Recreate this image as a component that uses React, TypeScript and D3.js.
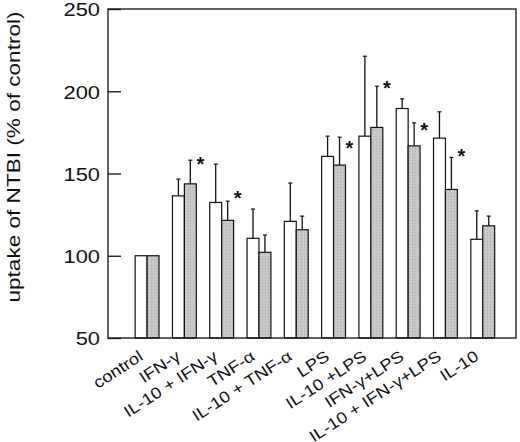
import React, { useRef, useEffect } from 'react';
import * as d3 from 'd3';

// groups along the x axis
const categories = [
    'control',
    'IFN-γ',
    'IL-10 + IFN-γ',
    'TNF-α',
    'IL-10 + TNF-α',
    'LPS',
    'IL-10 +LPS',
    'IFN-γ+LPS',
    'IL-10 + IFN-γ+LPS',
    'IL-10',
];

// open bars
const whiteVals = [100, 136.4, 132.4, 110.6, 120.9, 160.4, 172.7, 189.5, 171.5, 110.0];
const whiteErrTop = [100, 146.6, 155.7, 128.4, 144.2, 172.7, 221.3, 195.4, 187.5, 127.3];
// shaded bars
const greyVals = [100, 143.7, 121.5, 102.1, 115.8, 155.1, 178.0, 166.8, 140.3, 118.2];
const greyErrTop = [100, 158.1, 133.2, 112.6, 124.1, 172.1, 203.1, 180.8, 159.8, 124.1];
// asterisks (value at which the star sits, null = none)
const starVals = [null, 158.7, 137.9, null, null, 168.6, 205.1, 179.2, 163.6, null];

const yTicks = [50, 100, 150, 200, 250];
const yTitle = 'uptake of NTBI (% of control)';

const W = 520;
const H = 442;

export default function App() {
    const svgRef = useRef<SVGSVGElement | null>(null);

    useEffect(() => {
        const svg = d3.select(svgRef.current);
        svg.selectAll('*').remove();

        const left = 108,
            right = 516,
            top = 9,
            bottom = 338;

        const y = d3.scaleLinear().domain([50, 250]).range([bottom, top]);
        const x = d3
            .scaleBand<string>()
            .domain(categories)
            .range([left, right])
            .paddingInner(0.36)
            .paddingOuter(0.65)
            .align(0.56);
        const sub = d3.scaleBand<string>().domain(['w', 'g']).range([0, x.bandwidth()]);
        const bw = sub.bandwidth();

        const font = "'Liberation Sans', Arial, Helvetica, sans-serif";

        // grey stipple
        const defs = svg.append('defs');
        const pat = defs
            .append('pattern')
            .attr('id', 'stip')
            .attr('width', 3)
            .attr('height', 3)
            .attr('patternUnits', 'userSpaceOnUse');
        pat.append('rect').attr('width', 3).attr('height', 3).attr('fill', '#c8c8c8');
        pat.append('rect').attr('x', 1).attr('y', 1).attr('width', 1).attr('height', 1).attr('fill', '#adadad');

        const rows = categories.map((c, i) => ({
            c,
            w: whiteVals[i],
            we: whiteErrTop[i],
            g: greyVals[i],
            ge: greyErrTop[i],
            s: starVals[i],
        }));

        const g = svg.append('g');

        // error bars (drawn first, bars sit on top)
        const errs: { cx: number; v: number; e: number }[] = [];
        rows.forEach((r) => {
            const x0 = x(r.c) as number;
            errs.push({ cx: x0 + (sub('w') as number) + bw / 2, v: r.w, e: r.we });
            errs.push({ cx: x0 + (sub('g') as number) + bw / 2, v: r.g, e: r.ge });
        });
        const eg = g.selectAll('.err').data(errs.filter((d) => d.e > d.v)).join('g').attr('class', 'err');
        eg.append('line')
            .attr('x1', (d) => d.cx)
            .attr('x2', (d) => d.cx)
            .attr('y1', (d) => y(d.v))
            .attr('y2', (d) => y(d.e))
            .attr('stroke', '#111')
            .attr('stroke-width', 1.3);
        eg.append('line')
            .attr('x1', (d) => d.cx - 2)
            .attr('x2', (d) => d.cx + 2)
            .attr('y1', (d) => y(d.e))
            .attr('y2', (d) => y(d.e))
            .attr('stroke', '#111')
            .attr('stroke-width', 1.2);

        // bars
        g.selectAll('.wbar')
            .data(rows)
            .join('rect')
            .attr('class', 'wbar')
            .attr('x', (d) => (x(d.c) as number) + (sub('w') as number))
            .attr('y', (d) => y(d.w))
            .attr('width', bw)
            .attr('height', (d) => y(50) - y(d.w))
            .attr('fill', '#fff')
            .attr('stroke', '#111')
            .attr('stroke-width', 1.2);
        g.selectAll('.gbar')
            .data(rows)
            .join('rect')
            .attr('class', 'gbar')
            .attr('x', (d) => (x(d.c) as number) + (sub('g') as number))
            .attr('y', (d) => y(d.g))
            .attr('width', bw)
            .attr('height', (d) => y(50) - y(d.g))
            .attr('fill', 'url(#stip)')
            .attr('stroke', '#111')
            .attr('stroke-width', 1.2);

        // stars
        g.selectAll('.star')
            .data(rows.filter((r) => r.s !== null))
            .join('text')
            .attr('class', 'star')
            .attr('x', (d) => (x(d.c) as number) + x.bandwidth() + 4)
            .attr('y', (d) => y(d.s as number) + 12)
            .attr('text-anchor', 'middle')
            .attr('font-family', font)
            .attr('font-weight', 'bold')
            .attr('font-size', 20)
            .attr('fill', '#111')
            .text('*');

        // frame
        svg.append('rect')
            .attr('x', left)
            .attr('y', top)
            .attr('width', right - left)
            .attr('height', bottom - top)
            .attr('fill', 'none')
            .attr('stroke', '#111')
            .attr('stroke-width', 1.3);

        // y ticks, pointing inward
        const yAxis = d3.axisLeft(y).tickValues(yTicks).tickSizeInner(-13).tickSizeOuter(0).tickPadding(8);
        const ya = svg.append('g').attr('transform', `translate(${left},0)`).call(yAxis);
        ya.select('.domain').remove();
        ya.selectAll('line').attr('stroke', '#111').attr('stroke-width', 1.3);
        ya.selectAll('text')
            .attr('font-family', font)
            .attr('font-size', 19)
            .attr('fill', '#111')
            .attr('dy', '0.36em')
            .attr('transform', function () {
                const t = d3.select(this);
                const xx = +t.attr('x') || -8;
                return `translate(${xx},0) scale(1.15,1) translate(${-xx},0)`;
            });

        // x labels, slanted
        svg.append('g')
            .selectAll('text')
            .data(categories)
            .join('text')
            .attr(
                'transform',
                (d) => `translate(${(x(d) as number) + x.bandwidth() / 2 - 3},359) rotate(-33) scale(1.15,1)`
            )
            .attr('text-anchor', 'end')
            .attr('font-family', font)
            .attr('font-size', 16)
            .attr('fill', '#111')
            .text((d) => d);

        // y title
        svg.append('text')
            .attr('transform', 'translate(20,157) rotate(-90)')
            .attr('text-anchor', 'middle')
            .attr('font-family', font)
            .attr('font-size', 18)
            .attr('textLength', 291)
            .attr('lengthAdjust', 'spacingAndGlyphs')
            .attr('fill', '#111')
            .text(yTitle);
    }, []);

    return (
        <svg
            ref={svgRef}
            width={W}
            height={H}
            style={{ position: 'absolute', left: 0, top: 0, background: '#fff' }}
        />
    );
}
